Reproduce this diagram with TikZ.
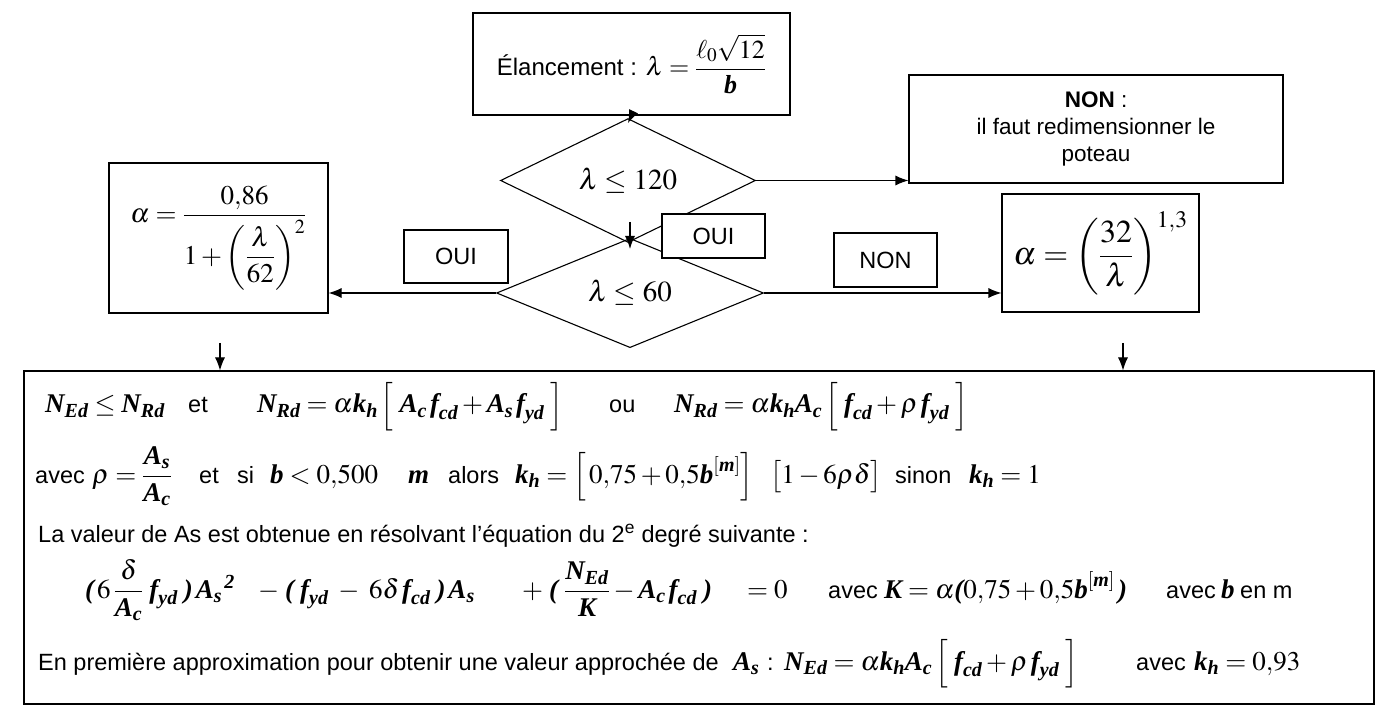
\documentclass[tikz,border=0pt]{standalone}
\usepackage{amsmath}
\usepackage{mathptmx}
\usepackage[no-math]{fontspec}
\setmainfont{Liberation Sans}
\newfontfamily\tnr{Liberation Serif}
\usetikzlibrary{shapes.geometric,arrows.meta,calc}
\newcommand\B[1]{\text{\tnr\bfseries\itshape #1}}
\tikzset{
  box/.style={draw, line width=1.1pt, inner sep=0pt, fill=white, align=center},
  dia/.style={draw, diamond, line width=1.1pt, inner sep=0pt},
  arr/.style={line width=1.1pt, -{Latex[length=13pt,width=10pt]}},
  txt/.style={inner sep=0pt, anchor=base west, font=\fontsize{23.5}{28}\selectfont},
  mth/.style={inner sep=0pt, anchor=base west, font=\fontsize{27}{31}\selectfont},
}
\begin{document}
\begin{tikzpicture}[x=1pt,y=-1pt]
\useasboundingbox (0,0) rectangle (1382,708);
% flow nodes
\node[box, minimum width=317pt, minimum height=102pt, font=\fontsize{24}{28}\selectfont] (top) at (631.5,64)
  {Élancement : {\fontsize{26}{30}\selectfont$\lambda = \dfrac{\ell_{0}\sqrt{12}}{\B{b}}$}};
\node[dia, minimum width=255pt, minimum height=105pt, font=\fontsize{29}{33}\selectfont] (d1) at (628,180.5) {$\lambda \le 120$};
\node[dia, minimum width=267pt, minimum height=107pt, font=\fontsize{29}{33}\selectfont] (d2) at (630,293) {$\lambda \le 60$};
\node[box, minimum width=374pt, minimum height=108pt, font=\fontsize{22.5}{27}\selectfont] (non1) at (1096,129)
  {\textbf{NON} :\\ il faut redimensionner le\\ poteau};
\node[box, minimum width=219pt, minimum height=150pt, font=\fontsize{27}{31}\selectfont] (la) at (218.5,238)
  {$\alpha = \dfrac{0{,}86}{1+\left(\dfrac{\lambda}{62}\right)^{2}}$};
\node[box, minimum width=197pt, minimum height=118pt, font=\fontsize{32}{36}\selectfont] (ra) at (1100.5,253)
  {$\alpha = \left(\dfrac{32}{\lambda}\right)^{1{,}3}$};
\node[box, minimum width=104pt, minimum height=53pt, font=\fontsize{23.5}{28}\selectfont] (oui1) at (456,256.5) {OUI};
\node[box, minimum width=103pt, minimum height=44pt, font=\fontsize{23.5}{28}\selectfont] (oui2) at (713.5,236) {OUI};
\node[box, minimum width=103pt, minimum height=54pt, font=\fontsize{23.5}{28}\selectfont] (non2) at (885.5,260) {NON};
\node[box, minimum width=1350pt, minimum height=333pt] (big) at (699,537.5) {};
% connectors
\coordinate (c1a) at (630,222);
\coordinate (c1b) at (630,249);
\coordinate (cl) at (220,343);
\coordinate (cr) at (1123,343);
\draw[arr] (top.south) -- ($(d1.north)+(0,5)$);
\draw[arr] (c1a) -- (c1b);
\draw[arr] (d1.east) -- (d1.east -| non1.west);
\draw[arr] (d2.west) -- (d2.west -| la.east);
\draw[arr] (d2.east) -- (d2.east -| ra.west);
\draw[arr] (cl) -- (cl |- big.north);
\draw[arr] (cr) -- (cr |- big.north);
% line 1
\node[mth] (l1a) at (45,413) {$\B{N}_{\B{Ed}} \le \B{N}_{\B{Rd}}$};
\node[txt] (l1b) at (188,413) {et};
\node[mth] (l1c) at (257,413) {$\B{N}_{\B{Rd}} = \alpha \B{k}_{\B{h}}\, \Big[\; \B{A}_{\B{c}}\, \B{f}_{\B{cd}} + \B{A}_{\B{s}}\, \B{f}_{\B{yd}}\; \Big]$};
\node[txt] (l1d) at (609,413) {ou};
\node[mth] (l1e) at (674,413) {$\B{N}_{\B{Rd}} = \alpha\B{k}_{\B{h}}\B{A}_{\B{c}}\,\Big[\;\B{f}_{\B{cd}}+\rho\,\B{f}_{\B{yd}}\;\Big]$};
% line 2
\node[txt] (l2a) at (35,483) {avec};
\node[mth] (l2b) at (92,483) {$\rho = \dfrac{\B{A}_{\B{s}}}{\B{A}_{\B{c}}}$};
\node[txt] (l2c) at (199,483) {et};
\node[txt] (l2d) at (237,483) {si};
\node[mth] (l2e) at (270,483) {$\B{b} < 0{,}500$};
\node[mth] (l2f) at (408,483) {$\B{m}$};
\node[txt] (l2g) at (448,483) {alors};
\node[mth] (l2h) at (515,483) {$\B{k}_{\B{h}} = \Big[\,0{,}75+0{,}5\B{b}^{[\B{m}]}\Big]$};
\node[mth] (l2i) at (770,483) {$\big[1-6\rho\delta\big]$};
\node[txt] (l2j) at (895,483) {sinon};
\node[mth] (l2k) at (969,483) {$\B{k}_{\B{h}} = 1$};
% line 3
\node[txt] (l3) at (38,542) {La valeur de As est obtenue en résolvant l’équation du 2\textsuperscript{e} degré suivante :};
% line 4
\node[mth] (l4a) at (85,598) {$\B{(}\,6\,\dfrac{\delta}{\B{A}_{\B{c}}}\;\B{f}_{\B{yd}}\;\B{)}\,\B{A}_{\B{s}}{}^{\,\B{2}}$};
\node[mth] (l4b) at (258,598) {$-\;\B{(}\;\B{f}_{\B{yd}} \;-\; 6\delta\,\B{f}_{\B{cd}}\;\B{)}\,\B{A}_{\B{s}}$};
\node[mth] (l4c) at (522,598) {$+\;\B{(}\;\dfrac{\B{N}_{\B{Ed}}}{\B{K}} - \B{A}_{\B{c}}\,\B{f}_{\B{cd}}\;\B{)}$};
\node[mth] (l4d) at (747,598) {$=0$};
\node[txt] (l4e) at (828,598) {avec};
\node[mth] (l4f) at (884,598) {$\B{K} = \alpha\B{(}0{,}75+0{,}5\B{b}^{[\B{m}]}\,\B{)}$};
\node[txt] (l4g) at (1166,598) {avec};
\node[mth] (l4h) at (1221,598) {$\B{b}$};
\node[txt] (l4i) at (1240,598) {en m};
% line 5
\node[txt] (l5a) at (38,670) {En première approximation pour obtenir une valeur approchée de};
\node[mth] (l5b) at (733,670) {$\B{A}_{\B{s}}$};
\node[txt] (l5c) at (767,670) {:};
\node[mth] (l5d) at (784,670) {$\B{N}_{\B{Ed}} = \alpha\B{k}_{\B{h}}\B{A}_{\B{c}}\,\Big[\;\B{f}_{\B{cd}}+\rho\,\B{f}_{\B{yd}}\;\Big]$};
\node[txt] (l5e) at (1136,670) {avec};
\node[mth] (l5f) at (1194,670) {$\B{k}_{\B{h}} = 0{,}93$};
\end{tikzpicture}
\end{document}
